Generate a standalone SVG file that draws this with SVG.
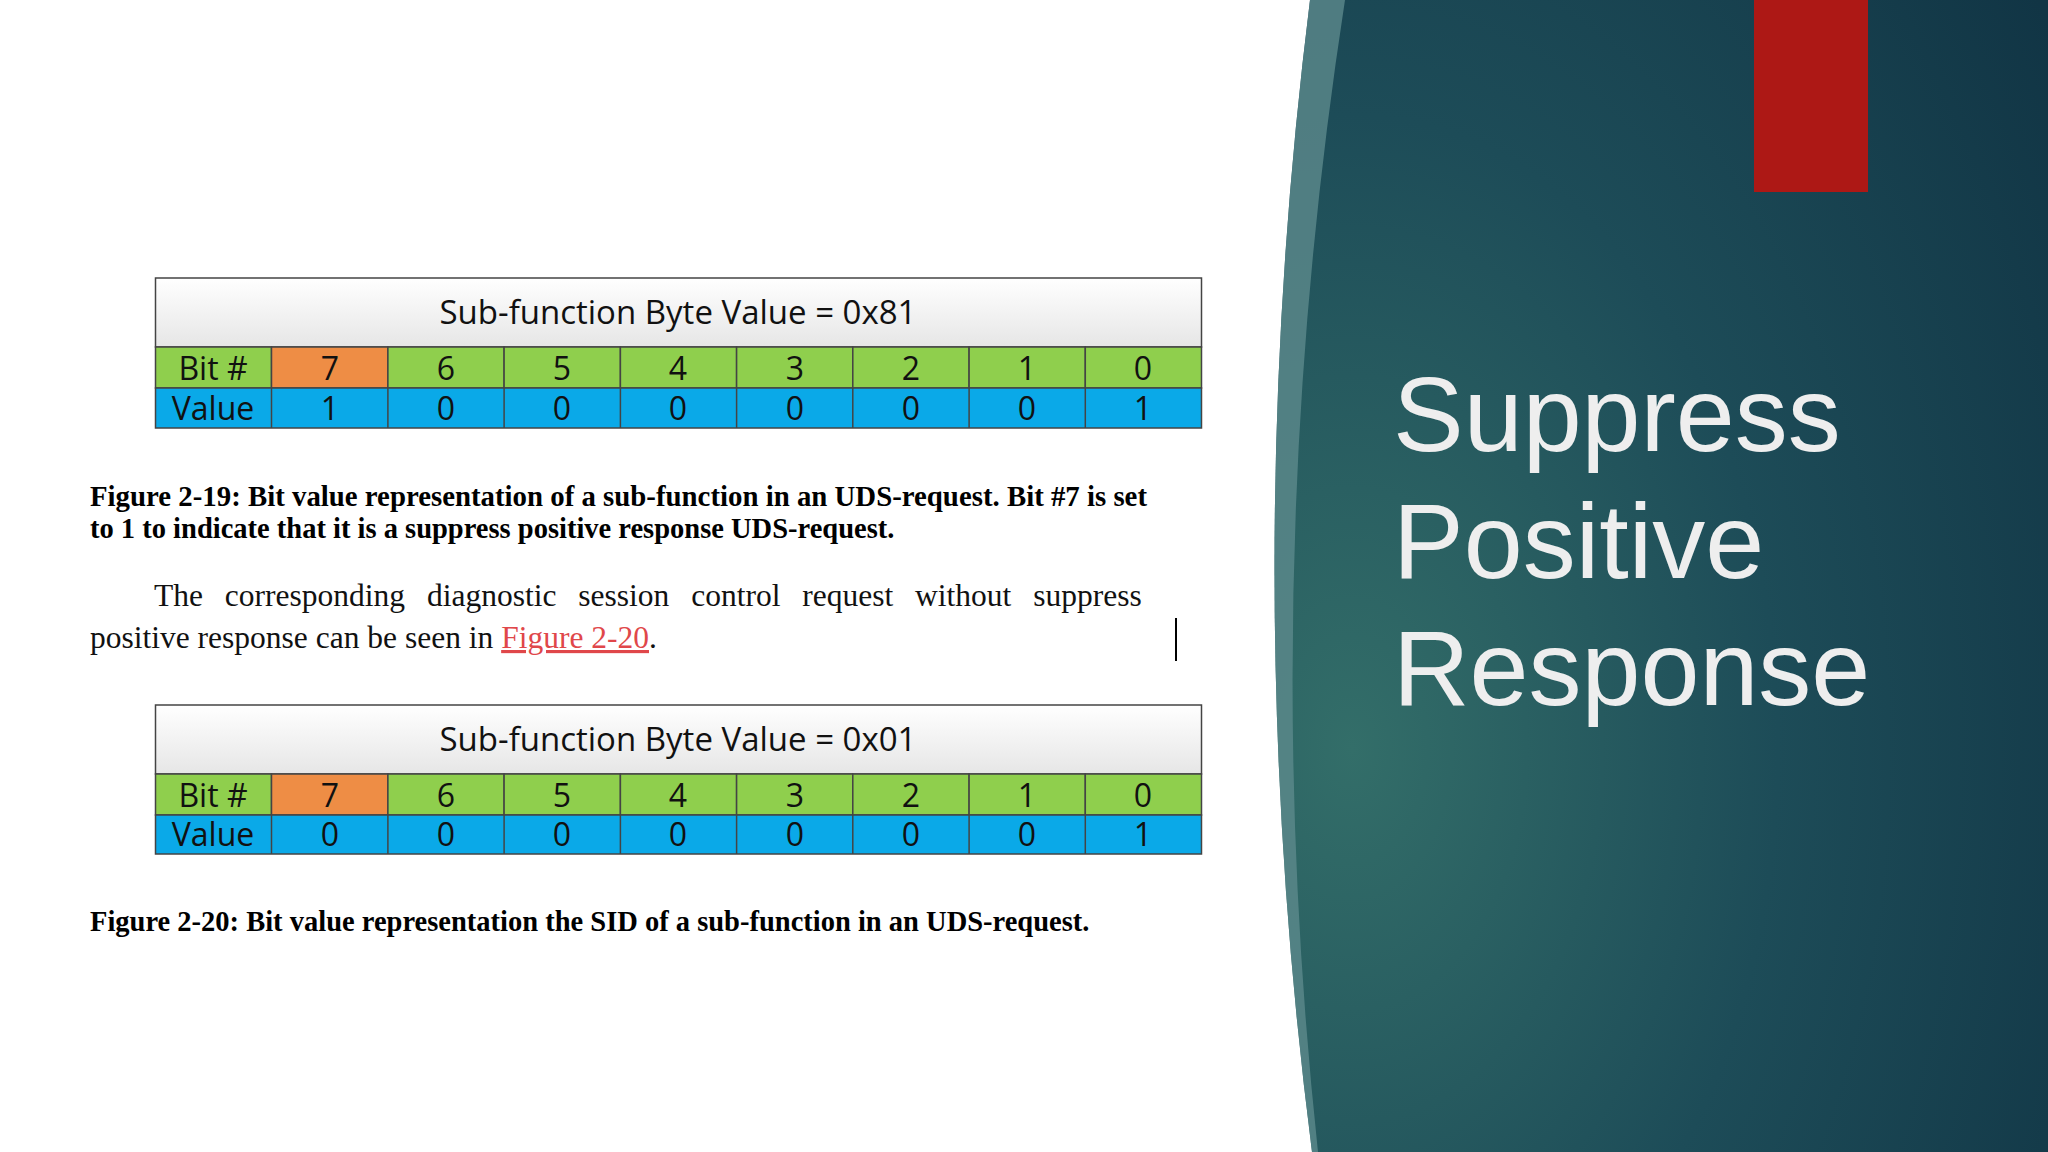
<svg xmlns="http://www.w3.org/2000/svg" width="2048" height="1152" viewBox="0 0 2048 1152">
<defs>
<linearGradient id="hdr" x1="0" y1="0" x2="0" y2="1"><stop offset="0" stop-color="#ffffff"/><stop offset="1" stop-color="#e6e6e6"/></linearGradient>
<radialGradient id="bg" cx="0.1" cy="0.65" r="1.1"><stop offset="0" stop-color="#336e69"/><stop offset="0.5" stop-color="#1d4c58"/><stop offset="1" stop-color="#113545"/></radialGradient>
<style>
.cell{stroke:#444;stroke-width:1.5}
.g{fill:#8fcf4d}.o{fill:#ee8d45}.b{fill:#0aa9e8}
.t{font-family:"Open Sans","Liberation Sans",sans-serif;font-size:32px;fill:#111;text-anchor:middle}
.h{font-family:"Open Sans","Liberation Sans",sans-serif;font-size:33px;fill:#111;text-anchor:middle}
.cap{font-family:"Liberation Serif",serif;font-size:28.5px;font-weight:bold;fill:#000}
.p{font-family:"Liberation Serif",serif;font-size:31.5px;fill:#111}
.title{font-family:"Liberation Sans",sans-serif;font-size:106px;fill:#eeeeee}
</style>
</defs>
<rect width="2048" height="1152" fill="#ffffff"/>
<g id="panel">
<path d="M1310,0 Q1238,576 1312,1152 L2048,1152 L2048,0 Z" fill="url(#bg)"/>
<path d="M1310,0 Q1238,576 1312,1152 L1318,1152 Q1256,576 1345,0 Z" fill="#5d8a8c" opacity="0.8"/>
<rect x="1754" y="0" width="114" height="192" fill="#ad1815"/>
<text class="title" x="1393" y="451">Suppress</text>
<text class="title" x="1393" y="578">Positive</text>
<text class="title" x="1393" y="705">Response</text>
</g>
<g id="table1">
<rect class="cell" x="155.5" y="278" width="1046" height="69" fill="url(#hdr)"/>
<text class="h" x="678" y="324">Sub-function Byte Value = 0x81</text>
<rect class="cell g" x="155.5" y="347" width="116" height="41"/>
<rect class="cell o" x="271.5" y="347" width="116.4" height="41"/>
<rect class="cell g" x="387.9" y="347" width="116.2" height="41"/>
<rect class="cell g" x="504.1" y="347" width="116.3" height="41"/>
<rect class="cell g" x="620.4" y="347" width="116.2" height="41"/>
<rect class="cell g" x="736.6" y="347" width="116.2" height="41"/>
<rect class="cell g" x="852.8" y="347" width="116.3" height="41"/>
<rect class="cell g" x="969.1" y="347" width="116.2" height="41"/>
<rect class="cell g" x="1085.3" y="347" width="116.2" height="41"/>
<rect class="cell b" x="155.5" y="388" width="1046" height="40"/>
<g stroke="#444" stroke-width="1.5"><line x1="271.5" y1="388" x2="271.5" y2="428"/><line x1="387.9" y1="388" x2="387.9" y2="428"/><line x1="504.1" y1="388" x2="504.1" y2="428"/><line x1="620.4" y1="388" x2="620.4" y2="428"/><line x1="736.6" y1="388" x2="736.6" y2="428"/><line x1="852.8" y1="388" x2="852.8" y2="428"/><line x1="969.1" y1="388" x2="969.1" y2="428"/><line x1="1085.3" y1="388" x2="1085.3" y2="428"/></g>
<text class="t" x="213" y="380">Bit #</text><text class="t" x="330" y="380">7</text><text class="t" x="446" y="380">6</text><text class="t" x="562" y="380">5</text><text class="t" x="678" y="380">4</text><text class="t" x="795" y="380">3</text><text class="t" x="911" y="380">2</text><text class="t" x="1027" y="380">1</text><text class="t" x="1143" y="380">0</text>
<text class="t" x="213" y="420">Value</text><text class="t" x="330" y="420">1</text><text class="t" x="446" y="420">0</text><text class="t" x="562" y="420">0</text><text class="t" x="678" y="420">0</text><text class="t" x="795" y="420">0</text><text class="t" x="911" y="420">0</text><text class="t" x="1027" y="420">0</text><text class="t" x="1143" y="420">1</text>
</g>
<g id="caption1">
<text class="cap" x="90" y="506" textLength="1057" lengthAdjust="spacingAndGlyphs">Figure 2-19: Bit value representation of a sub-function in an UDS-request. Bit #7 is set</text>
<text class="cap" x="90" y="538">to 1 to indicate that it is a suppress positive response UDS-request.</text>
</g>
<g id="paragraph">
<text class="p" x="154" y="606" word-spacing="14">The corresponding diagnostic session control request without suppress</text>
<text class="p" x="90" y="648">positive response can be seen in <tspan fill="#e0474a" text-decoration="underline">Figure 2-20</tspan>.</text>
<line x1="1176" y1="618" x2="1176" y2="661" stroke="#000" stroke-width="2"/>
</g>
<g id="table2">
<rect class="cell" x="155.5" y="705" width="1046" height="69" fill="url(#hdr)"/>
<text class="h" x="678" y="751">Sub-function Byte Value = 0x01</text>
<rect class="cell g" x="155.5" y="774" width="116" height="41"/>
<rect class="cell o" x="271.5" y="774" width="116.4" height="41"/>
<rect class="cell g" x="387.9" y="774" width="116.2" height="41"/>
<rect class="cell g" x="504.1" y="774" width="116.3" height="41"/>
<rect class="cell g" x="620.4" y="774" width="116.2" height="41"/>
<rect class="cell g" x="736.6" y="774" width="116.2" height="41"/>
<rect class="cell g" x="852.8" y="774" width="116.3" height="41"/>
<rect class="cell g" x="969.1" y="774" width="116.2" height="41"/>
<rect class="cell g" x="1085.3" y="774" width="116.2" height="41"/>
<rect class="cell b" x="155.5" y="815" width="1046" height="39"/>
<g stroke="#444" stroke-width="1.5"><line x1="271.5" y1="815" x2="271.5" y2="854"/><line x1="387.9" y1="815" x2="387.9" y2="854"/><line x1="504.1" y1="815" x2="504.1" y2="854"/><line x1="620.4" y1="815" x2="620.4" y2="854"/><line x1="736.6" y1="815" x2="736.6" y2="854"/><line x1="852.8" y1="815" x2="852.8" y2="854"/><line x1="969.1" y1="815" x2="969.1" y2="854"/><line x1="1085.3" y1="815" x2="1085.3" y2="854"/></g>
<text class="t" x="213" y="807">Bit #</text><text class="t" x="330" y="807">7</text><text class="t" x="446" y="807">6</text><text class="t" x="562" y="807">5</text><text class="t" x="678" y="807">4</text><text class="t" x="795" y="807">3</text><text class="t" x="911" y="807">2</text><text class="t" x="1027" y="807">1</text><text class="t" x="1143" y="807">0</text>
<text class="t" x="213" y="846">Value</text><text class="t" x="330" y="846">0</text><text class="t" x="446" y="846">0</text><text class="t" x="562" y="846">0</text><text class="t" x="678" y="846">0</text><text class="t" x="795" y="846">0</text><text class="t" x="911" y="846">0</text><text class="t" x="1027" y="846">0</text><text class="t" x="1143" y="846">1</text>
</g>
<g id="caption2">
<text class="cap" x="90" y="931">Figure 2-20: Bit value representation the SID of a sub-function in an UDS-request.</text>
</g>
<g id="connectors"/>
</svg>
